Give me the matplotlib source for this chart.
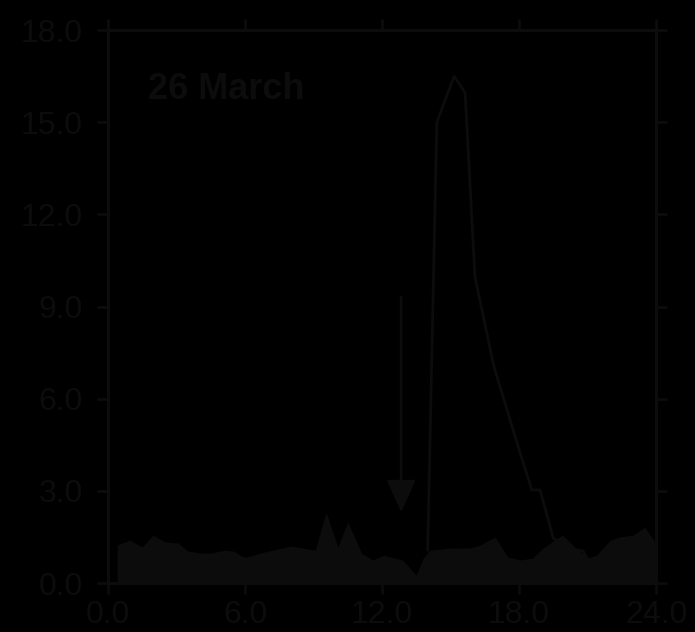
import numpy as np
import matplotlib.pyplot as plt

# shaded background series (hours, value)
fill_x = [0.4, 0.96, 1.49, 1.97, 2.5, 3.07, 3.5, 4.0, 4.47, 5.1, 5.5, 5.9,
          6.1, 6.8, 7.4, 8.0, 8.5, 9.07, 9.55, 10.07, 10.5, 11.1, 11.6, 12.1,
          12.35, 12.9, 13.5, 13.8, 14.1, 15.0, 15.85, 16.3, 16.95, 17.5, 18.05,
          18.6, 19.05, 19.9, 20.45, 21.0, 21.4, 22.0, 22.4, 23.0, 23.5, 23.9, 24.0]
fill_y = [1.24, 1.4, 1.17, 1.56, 1.34, 1.3, 1.04, 0.98, 0.97, 1.07, 1.04, 0.85,
          0.85, 1.0, 1.1, 1.2, 1.14, 1.07, 2.3, 1.17, 1.99, 0.97, 0.75, 0.91,
          0.85, 0.75, 0.26, 0.81, 1.07, 1.14, 1.14, 1.24, 1.5, 0.85, 0.75,
          0.81, 1.14, 1.56, 1.17, 0.81, 0.91, 1.4, 1.5, 1.56, 1.82, 1.4, 1.2]

# peak series
line_x = [14.0, 14.4, 15.16, 15.64, 16.07, 16.9, 18.05, 18.56, 18.92, 19.5, 20.3, 20.8, 21.1]
line_y = [1.07, 15.0, 16.5, 15.96, 9.97, 7.05, 4.23, 3.03, 3.03, 1.46, 1.1, 1.05, 0.65]

fg = '#0c0c0c'
plt.rcParams['font.family'] = ['Liberation Sans', 'DejaVu Sans']

fig = plt.figure(figsize=(6.95, 6.32), dpi=100, facecolor='black')
ax = fig.add_axes([0.1554, 0.0775, 0.7885, 0.875])
ax.set_facecolor('black')

ax.fill_between(fill_x, fill_y, 0, color=fg, lw=0)
ax.plot(line_x, line_y, color=fg, lw=2.0)

ax.annotate('', xy=(12.84, 2.3), xytext=(12.84, 9.3),
            arrowprops=dict(arrowstyle='-|>,head_length=1.0,head_width=0.45',
                            color=fg, lw=2, mutation_scale=20, shrinkA=0, shrinkB=0))

ax.text(1.75, 16.05, '26 March', fontsize=26, fontweight='bold', color=fg,
        ha='left', va='center')

ax.set_xlim(0, 24)
ax.set_ylim(0, 18)
ax.set_xticks([0, 6, 12, 18, 24])
ax.set_yticks([0, 3, 6, 9, 12, 15, 18])
ax.set_xticklabels(['0.0', '6.0', '12.0', '18.0', '24.0'])
ax.set_yticklabels(['0.0', '3.0', '6.0', '9.0', '12.0', '15.0', '18.0'])
ax.tick_params(direction='out', length=8, width=2, color=fg, labelcolor=fg,
               labelsize=23, top=True, right=True)
ax.tick_params(axis='y', pad=10)
ax.tick_params(axis='x', pad=4)
for s in ax.spines.values():
    s.set_color(fg)
    s.set_linewidth(2.2)

fig.savefig('out.png', dpi=100, facecolor='black')
